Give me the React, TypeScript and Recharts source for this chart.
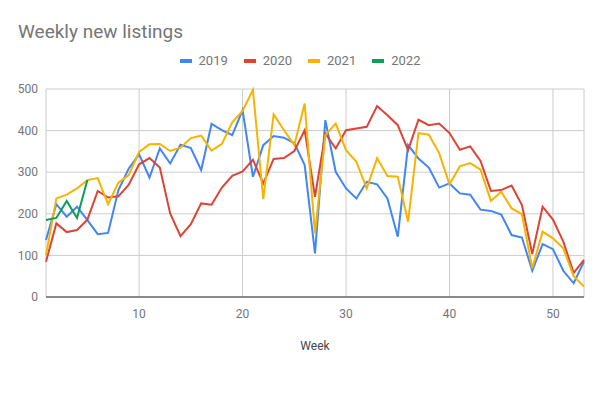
import React from 'react'
import { LineChart, Line, XAxis, YAxis, CartesianGrid } from 'recharts'

const weeks = Array.from({ length: 53 }, (_, i) => i + 1)

const listings2019 = [
  137, 223, 193, 217, 185, 151, 154, 257, 309, 343, 287, 357, 321, 366, 358, 305, 416, 401, 389, 449,
  289, 365, 387, 383, 370, 317, 105, 425, 301, 261, 237, 277, 271, 237, 145, 365, 333, 311, 263, 273,
  249, 246, 210, 207, 198, 149, 143, 63, 127, 115, 63, 33, 85,
]
const listings2020 = [
  85, 177, 156, 161, 186, 255, 239, 242, 270, 319, 334, 311, 201, 146, 175, 225, 222, 263, 291, 302,
  330, 273, 332, 334, 351, 401, 241, 393, 357, 401, 405, 409, 459, 437, 413, 353, 426, 413, 417, 394,
  354, 362, 327, 255, 257, 268, 221, 103, 217, 186, 133, 58, 89,
]
const listings2021 = [
  100, 237, 246, 261, 281, 286, 223, 275, 293, 349, 367, 368, 351, 359, 382, 388, 352, 368, 420, 447,
  498, 235, 439, 401, 365, 465, 153, 389, 417, 353, 325, 261, 334, 291, 289, 181, 394, 390, 346, 271,
  314, 322, 306, 231, 253, 213, 199, 69, 157, 141, 117, 50, 25,
]
const listings2022 = [185, 190, 231, 190, 281]

const xTicks = [10, 20, 30, 40, 50]
const yTicks = [0, 100, 200, 300, 400, 500]

const series = [
  { key: 'y2019', name: '2019', color: '#4285f4' },
  { key: 'y2020', name: '2020', color: '#db4437' },
  { key: 'y2021', name: '2021', color: '#f4b400' },
  { key: 'y2022', name: '2022', color: '#0f9d58' },
]

const data = weeks.map((week, i) => ({
  week,
  y2019: listings2019[i],
  y2020: listings2020[i],
  y2021: listings2021[i],
  y2022: listings2022[i],
}))

const font = 'Roboto, "Noto Sans", sans-serif'

export default function App() {
  return (
    <div style={{ position: 'absolute', left: 0, top: 0, width: 600, height: 404, fontFamily: font, background: '#fff' }}>
      <div style={{ position: 'absolute', left: 18, top: 20, fontSize: 19, color: '#757575' }}>
        Weekly new listings
      </div>
      <div
        style={{
          position: 'absolute', top: 53, left: 0, width: 600, display: 'flex',
          justifyContent: 'center', gap: 16, fontSize: 13, color: '#757575',
        }}
      >
        {series.map((s) => (
          <div key={s.key} style={{ display: 'flex', alignItems: 'center' }}>
            <span style={{ display: 'inline-block', width: 12, height: 4, background: s.color, marginRight: 7 }} />
            <span>{s.name}</span>
          </div>
        ))}
      </div>
      <LineChart width={600} height={404} data={data} margin={{ top: 89, right: 16, bottom: 47, left: 8 }}>
        <CartesianGrid stroke="#cccccc" />
        <XAxis
          dataKey="week"
          type="number"
          domain={[1, 53]}
          ticks={xTicks}
          height={60}
          tickLine={false}
          axisLine={{ stroke: '#333333' }}
          tickMargin={6}
          tick={{ fill: '#757575', fontSize: 12, fontFamily: font }}
          label={{ value: 'Week', position: 'insideBottom', offset: 7, fill: '#444444', fontSize: 12, fontFamily: font }}
        />
        <YAxis
          domain={[0, 500]}
          ticks={yTicks}
          width={38}
          tickLine={false}
          axisLine={false}
          tick={{ fill: '#757575', fontSize: 12, fontFamily: font }}
        />
        {series.map((s) => (
          <Line
            key={s.key}
            dataKey={s.key}
            name={s.name}
            stroke={s.color}
            strokeWidth={2}
            dot={false}
            type="linear"
            isAnimationActive={false}
          />
        ))}
      </LineChart>
    </div>
  )
}
